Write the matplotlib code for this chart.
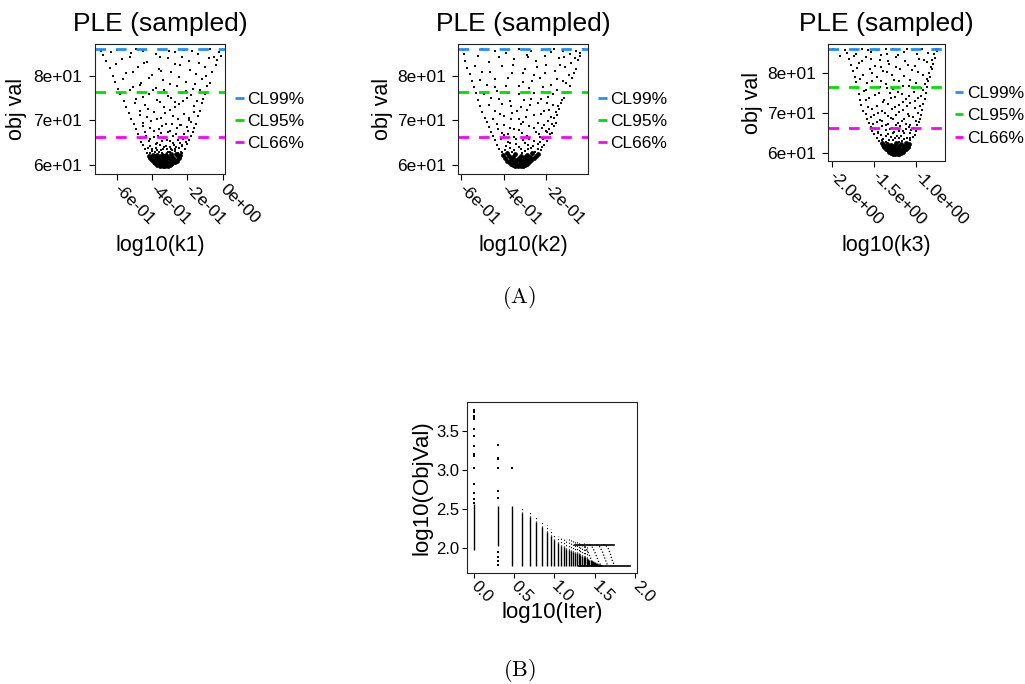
import matplotlib

matplotlib.use("Agg")
import matplotlib.pyplot as plt
import numpy as np

plt.rcParams["font.family"] = ["Liberation Sans", "DejaVu Sans"]
plt.rcParams["mathtext.fontset"] = "cm"

FIG_W, FIG_H = 1025, 684

# confidence-level thresholds on the objective value
CL_LABELS = ["CL99%", "CL95%", "CL66%"]
CL_LEVELS = [85.9, 76.4, 66.3]
CL_COLORS = ["#1E90FF", "#00E000", "#FF00FF"]

OBJ_TICKS = [60, 70, 80]
OBJ_TICK_LABELS = ["6e+01", "7e+01", "8e+01"]
OBJ_LIMITS = (58.0, 87.1)

K1_TICKS = [-0.6, -0.4, -0.2, 0.0]
K1_TICK_LABELS = ["-6e-01", "-4e-01", "-2e-01", "0e+00"]
K2_TICKS = [-0.6, -0.4, -0.2]
K2_TICK_LABELS = ["-6e-01", "-4e-01", "-2e-01"]
K3_TICKS = [-2.0, -1.5, -1.0]
K3_TICK_LABELS = ["-2.0e+00", "-1.5e+00", "-1.0e+00"]

# sampled profile points (log10 parameter, objective value); the core is the
# dense region just above the minimum
K1_CORE = [
    (-0.34, 59.7), (-0.325, 59.75), (-0.31, 59.8), (-0.355, 59.9), (-0.33, 59.95), (-0.30, 60.0),
    (-0.37, 60.1), (-0.35, 60.15), (-0.315, 60.2), (-0.29, 60.15), (-0.285, 60.4), (-0.385, 60.4),
    (-0.36, 60.5), (-0.335, 60.45), (-0.305, 60.55), (-0.27, 60.7), (-0.39, 60.75), (-0.37, 60.85),
    (-0.345, 60.8), (-0.32, 60.9), (-0.295, 60.85), (-0.26, 61.0), (-0.40, 61.1), (-0.375, 61.2),
    (-0.35, 61.15), (-0.325, 61.3), (-0.30, 61.25), (-0.275, 61.4), (-0.25, 61.5), (-0.41, 61.5),
    (-0.385, 61.6), (-0.36, 61.7), (-0.335, 61.65), (-0.31, 61.8), (-0.285, 61.9), (-0.255, 62.0),
    (-0.42, 62.1), (-0.395, 62.2), (-0.37, 62.3), (-0.345, 62.2), (-0.32, 62.35), (-0.295, 62.4),
    (-0.265, 62.5), (-0.24, 62.3),
]
K1_CLOUD = [
    (-0.43, 62.8), (-0.40, 63.1), (-0.36, 62.9), (-0.31, 63.0), (-0.27, 63.2), (-0.235, 63.0),
    (-0.44, 63.6), (-0.38, 63.8), (-0.34, 63.5), (-0.29, 63.7), (-0.25, 63.9), (-0.215, 63.6),
    (-0.45, 64.4), (-0.41, 64.2), (-0.355, 64.5), (-0.32, 64.3), (-0.275, 64.6), (-0.23, 64.4),
    (-0.20, 64.8), (-0.46, 65.2), (-0.42, 65.4), (-0.37, 65.0), (-0.30, 65.3), (-0.255, 65.6),
    (-0.21, 65.1), (-0.19, 65.7), (-0.47, 66.0), (-0.39, 66.3), (-0.33, 66.0), (-0.28, 66.5),
    (-0.235, 66.2), (-0.18, 66.4), (-0.48, 67.0), (-0.44, 67.3), (-0.35, 67.1), (-0.30, 67.6),
    (-0.22, 67.0), (-0.17, 67.4), (-0.49, 68.1), (-0.41, 68.4), (-0.36, 68.0), (-0.26, 68.3),
    (-0.20, 68.6), (-0.16, 68.2), (-0.50, 69.2), (-0.45, 69.5), (-0.32, 69.3), (-0.24, 69.0),
    (-0.18, 69.6), (-0.15, 69.1),
    (-0.52, 70.3), (-0.43, 70.8), (-0.35, 70.5), (-0.28, 71.0), (-0.19, 70.6), (-0.14, 70.9),
    (-0.53, 71.6), (-0.47, 72.0), (-0.39, 71.8), (-0.30, 72.3), (-0.22, 71.5), (-0.13, 72.1),
    (-0.55, 73.0), (-0.44, 73.4), (-0.33, 73.1), (-0.25, 73.7), (-0.16, 73.3), (-0.12, 73.8),
    (-0.56, 74.4), (-0.49, 74.8), (-0.37, 74.6), (-0.27, 74.2), (-0.20, 75.0), (-0.11, 74.7),
    (-0.58, 75.8), (-0.42, 76.0), (-0.31, 75.5), (-0.23, 76.2), (-0.10, 75.9),
    (-0.59, 77.0), (-0.51, 77.5), (-0.38, 77.2), (-0.26, 77.8), (-0.17, 77.1), (-0.09, 77.6),
    (-0.61, 78.6), (-0.46, 78.3), (-0.34, 79.0), (-0.21, 78.7), (-0.12, 79.2), (-0.07, 78.4),
    (-0.62, 80.0), (-0.55, 80.6), (-0.40, 80.2), (-0.29, 80.8), (-0.15, 80.4), (-0.06, 80.9),
    (-0.64, 81.7), (-0.48, 82.0), (-0.36, 81.5), (-0.24, 82.3), (-0.10, 81.9), (-0.04, 82.5),
    (-0.66, 83.3), (-0.57, 83.8), (-0.43, 83.1), (-0.31, 83.9), (-0.19, 83.4), (-0.08, 84.0),
    (-0.03, 83.6), (-0.68, 84.6), (-0.52, 85.0), (-0.38, 84.8), (-0.27, 85.3), (-0.14, 84.9),
    (-0.02, 85.2), (-0.01, 84.5), (-0.69, 85.6), (-0.60, 85.8), (-0.45, 85.5), (-0.22, 85.7),
    (-0.07, 85.9),
    (-0.318, 62.7), (-0.287, 63.4), (-0.352, 63.3), (-0.402, 63.5), (-0.262, 64.1), (-0.331, 64.0),
    (-0.298, 64.1), (-0.377, 64.8), (-0.243, 65.0), (-0.345, 65.4), (-0.281, 65.0), (-0.412, 65.9),
    (-0.318, 65.7), (-0.226, 65.9), (-0.366, 66.6), (-0.262, 66.9), (-0.432, 66.6), (-0.307, 67.3),
    (-0.198, 67.7), (-0.387, 67.6), (-0.341, 68.7), (-0.236, 68.9), (-0.452, 68.8), (-0.288, 69.2),
    (-0.407, 69.9), (-0.193, 70.1), (-0.372, 70.2), (-0.251, 70.4), (-0.468, 71.3), (-0.327, 71.7),
    (-0.164, 71.9), (-0.422, 72.6), (-0.268, 72.9), (-0.497, 73.9), (-0.353, 74.1), (-0.226, 74.4),
    (-0.143, 74.3), (-0.452, 75.3), (-0.291, 75.0), (-0.178, 75.6), (-0.527, 76.7), (-0.396, 76.8),
    (-0.334, 76.9), (-0.208, 76.6), (-0.128, 76.9), (-0.467, 78.0), (-0.297, 78.2), (-0.158, 78.1),
    (-0.562, 79.3), (-0.417, 79.6), (-0.247, 79.8), (-0.093, 79.9), (-0.508, 80.9), (-0.351, 81.1),
    (-0.187, 81.3), (-0.603, 82.6), (-0.447, 82.9), (-0.272, 82.7), (-0.134, 82.8), (-0.527, 84.1),
    (-0.356, 84.3), (-0.229, 84.1), (-0.052, 84.3), (-0.633, 85.2), (-0.492, 85.9), (-0.306, 85.6),
    (-0.172, 85.5),
    (-0.412, 62.7), (-0.383, 62.9), (-0.342, 62.8), (-0.297, 62.9), (-0.252, 62.8), (-0.228, 62.6),
    (-0.371, 63.4), (-0.316, 63.6), (-0.268, 63.5), (-0.421, 63.9), (-0.233, 64.2),
]

K2_CORE = [
    (-0.335, 59.7), (-0.32, 59.75), (-0.345, 59.85), (-0.31, 59.9), (-0.33, 60.0), (-0.355, 60.1),
    (-0.30, 60.1), (-0.32, 60.25), (-0.365, 60.3), (-0.29, 60.35), (-0.34, 60.45), (-0.305, 60.55),
    (-0.375, 60.6), (-0.28, 60.7), (-0.355, 60.75), (-0.325, 60.8), (-0.295, 60.9), (-0.385, 61.0),
    (-0.27, 61.05), (-0.34, 61.1), (-0.31, 61.2), (-0.365, 61.35), (-0.285, 61.4), (-0.26, 61.5),
    (-0.395, 61.55), (-0.33, 61.5), (-0.30, 61.7), (-0.355, 61.8), (-0.375, 62.0), (-0.275, 61.9),
    (-0.25, 62.1), (-0.405, 62.3), (-0.32, 62.1), (-0.345, 62.4), (-0.29, 62.35), (-0.24, 62.5),
    (-0.265, 62.6), (-0.385, 62.6),
]
K2_CLOUD = [
    (-0.41, 62.9), (-0.36, 63.0), (-0.30, 63.2), (-0.255, 63.0), (-0.225, 63.4),
    (-0.42, 63.7), (-0.37, 63.9), (-0.32, 63.6), (-0.27, 63.8), (-0.22, 64.0),
    (-0.43, 64.6), (-0.39, 64.3), (-0.34, 64.7), (-0.285, 64.4), (-0.24, 64.8), (-0.21, 64.5),
    (-0.44, 65.5), (-0.38, 65.2), (-0.31, 65.6), (-0.26, 65.3), (-0.215, 65.8), (-0.195, 65.4),
    (-0.45, 66.4), (-0.40, 66.7), (-0.35, 66.2), (-0.29, 66.6), (-0.23, 66.3), (-0.185, 66.9),
    (-0.46, 67.5), (-0.41, 67.2), (-0.33, 67.8), (-0.25, 67.4), (-0.20, 67.7), (-0.175, 67.1),
    (-0.47, 68.6), (-0.37, 68.3), (-0.28, 68.8), (-0.22, 68.2), (-0.165, 68.7),
    (-0.48, 69.6), (-0.43, 69.3), (-0.31, 69.7), (-0.24, 69.4), (-0.19, 69.9), (-0.155, 69.5),
    (-0.49, 70.5), (-0.40, 70.9), (-0.33, 70.4), (-0.26, 71.1), (-0.18, 70.7), (-0.15, 71.3),
    (-0.50, 71.8), (-0.44, 72.2), (-0.36, 71.6), (-0.29, 72.4), (-0.21, 72.0), (-0.14, 72.6),
    (-0.51, 73.2), (-0.41, 73.6), (-0.32, 73.0), (-0.24, 73.8), (-0.17, 73.4), (-0.13, 74.0),
    (-0.52, 74.6), (-0.46, 75.0), (-0.37, 74.4), (-0.27, 74.9), (-0.19, 75.3), (-0.115, 75.1),
    (-0.53, 76.1), (-0.43, 76.5), (-0.33, 75.8), (-0.22, 76.3), (-0.15, 76.8), (-0.10, 76.4),
    (-0.54, 77.4), (-0.48, 77.9), (-0.39, 77.6), (-0.28, 77.2), (-0.18, 78.0), (-0.09, 77.7),
    (-0.55, 78.8), (-0.44, 79.2), (-0.31, 78.6), (-0.23, 79.4), (-0.12, 78.9), (-0.08, 79.6),
    (-0.56, 80.3), (-0.50, 80.8), (-0.36, 80.5), (-0.26, 80.1), (-0.16, 81.0), (-0.07, 80.6),
    (-0.57, 81.8), (-0.41, 82.2), (-0.30, 81.6), (-0.20, 82.4), (-0.11, 82.0), (-0.06, 81.4),
    (-0.58, 83.4), (-0.47, 83.0), (-0.35, 83.7), (-0.25, 83.2), (-0.14, 83.9), (-0.05, 83.5),
    (-0.585, 84.9), (-0.52, 84.5), (-0.39, 85.1), (-0.29, 84.7), (-0.18, 85.3), (-0.09, 84.8),
    (-0.04, 85.0), (-0.59, 85.8), (-0.44, 85.6), (-0.33, 85.9), (-0.22, 85.7), (-0.12, 85.5),
    (-0.03, 85.9),
    (-0.312, 62.8), (-0.351, 63.3), (-0.284, 63.5), (-0.238, 63.6), (-0.396, 63.4), (-0.327, 64.1),
    (-0.262, 64.2), (-0.372, 64.9), (-0.298, 64.9), (-0.228, 65.1), (-0.412, 65.8), (-0.341, 65.9),
    (-0.279, 65.8), (-0.204, 66.1), (-0.379, 66.9), (-0.312, 67.1), (-0.236, 66.9), (-0.197, 67.4),
    (-0.427, 68.0), (-0.352, 68.1), (-0.258, 68.3), (-0.188, 68.0), (-0.398, 69.0), (-0.321, 69.2),
    (-0.213, 69.0), (-0.172, 69.3), (-0.449, 70.2), (-0.366, 70.3), (-0.295, 70.8), (-0.226, 71.4),
    (-0.163, 70.6), (-0.418, 71.5), (-0.338, 72.0), (-0.188, 72.3), (-0.153, 71.9), (-0.468, 73.5),
    (-0.366, 73.3), (-0.276, 73.4), (-0.197, 73.9), (-0.143, 73.2), (-0.424, 74.8), (-0.306, 74.6),
    (-0.226, 74.7), (-0.128, 74.5), (-0.493, 76.0), (-0.378, 76.2), (-0.258, 76.1), (-0.168, 75.8),
    (-0.113, 76.1), (-0.443, 77.5), (-0.327, 77.8), (-0.216, 77.4), (-0.106, 78.3), (-0.512, 79.1),
    (-0.381, 79.4), (-0.269, 78.9), (-0.148, 79.2), (-0.466, 80.8), (-0.311, 80.7), (-0.205, 80.5),
    (-0.094, 80.2), (-0.536, 82.2), (-0.356, 82.5), (-0.246, 81.9), (-0.138, 82.4), (-0.083, 82.8),
    (-0.421, 84.2), (-0.288, 84.1), (-0.205, 84.4), (-0.116, 84.2), (-0.067, 83.9), (-0.502, 85.9),
    (-0.271, 85.5), (-0.162, 85.9), (-0.061, 85.6), (-0.041, 84.4),
]

K3_CORE = [
    (-1.25, 59.7), (-1.22, 59.75), (-1.28, 59.85), (-1.20, 59.9), (-1.24, 60.0), (-1.30, 60.1),
    (-1.18, 60.15), (-1.26, 60.25), (-1.32, 60.35), (-1.16, 60.4), (-1.22, 60.45), (-1.29, 60.6),
    (-1.34, 60.7), (-1.14, 60.75), (-1.25, 60.8), (-1.19, 60.9), (-1.31, 61.0), (-1.36, 61.1),
    (-1.12, 61.1), (-1.23, 61.2), (-1.28, 61.35), (-1.16, 61.4), (-1.38, 61.5), (-1.33, 61.6),
    (-1.10, 61.6), (-1.21, 61.7), (-1.26, 61.85), (-1.14, 61.9), (-1.39, 62.0), (-1.30, 62.1),
    (-1.09, 62.2), (-1.18, 62.3), (-1.35, 62.4), (-1.24, 62.45), (-1.12, 62.6), (-1.41, 62.6),
]
K3_CLOUD = [
    (-1.44, 63.0), (-1.36, 62.9), (-1.27, 63.2), (-1.17, 63.0), (-1.07, 63.3),
    (-1.47, 63.8), (-1.39, 63.6), (-1.30, 64.0), (-1.20, 63.7), (-1.11, 63.9), (-1.04, 64.1),
    (-1.50, 64.7), (-1.42, 64.5), (-1.33, 64.8), (-1.23, 64.4), (-1.14, 64.9), (-1.02, 64.6),
    (-1.52, 65.6), (-1.45, 65.3), (-1.36, 65.7), (-1.26, 65.2), (-1.16, 65.5), (-1.06, 65.8),
    (-1.00, 65.4), (-1.54, 66.4), (-1.40, 66.7), (-1.29, 66.3), (-1.19, 66.8), (-1.09, 66.5),
    (-0.99, 66.9), (-1.56, 67.5), (-1.47, 67.8), (-1.33, 67.3), (-1.22, 67.6), (-1.12, 67.2),
    (-0.97, 67.7), (-1.58, 68.6), (-1.43, 68.3), (-1.30, 68.8), (-1.15, 68.4), (-1.04, 68.9),
    (-0.96, 68.5), (-1.60, 69.7), (-1.50, 69.4), (-1.37, 69.9), (-1.24, 69.5), (-1.10, 69.8),
    (-0.94, 69.6),
    (-1.63, 70.6), (-1.52, 70.9), (-1.41, 70.4), (-1.29, 71.0), (-1.16, 70.7), (-1.02, 71.2),
    (-0.93, 70.8), (-1.65, 72.0), (-1.46, 71.7), (-1.34, 72.3), (-1.20, 71.9), (-1.07, 72.5),
    (-0.92, 72.1), (-1.66, 73.3), (-1.56, 73.7), (-1.38, 73.1), (-1.25, 73.9), (-1.12, 73.4),
    (-0.98, 73.8), (-0.90, 73.5), (-1.68, 74.8), (-1.49, 74.4), (-1.31, 75.0), (-1.17, 74.6),
    (-1.03, 75.2), (-0.89, 74.9), (-1.70, 76.2), (-1.59, 75.8), (-1.43, 76.5), (-1.27, 76.0),
    (-1.09, 76.6), (-0.94, 76.1), (-0.87, 76.4), (-1.71, 77.6), (-1.52, 77.9), (-1.36, 77.3),
    (-1.21, 77.8), (-1.00, 77.5), (-0.86, 77.9), (-1.73, 79.0), (-1.63, 79.4), (-1.46, 78.8),
    (-1.29, 79.5), (-1.14, 79.1), (-0.92, 79.3), (-0.84, 78.9), (-1.75, 80.5), (-1.55, 80.9),
    (-1.39, 80.3), (-1.19, 81.0), (-1.05, 80.6), (-0.82, 80.8), (-1.77, 82.0), (-1.68, 82.4),
    (-1.49, 81.7), (-1.32, 82.2), (-1.10, 81.9), (-0.88, 82.6), (-0.80, 82.1), (-1.79, 83.5),
    (-1.60, 83.9), (-1.43, 83.2), (-1.24, 83.8), (-0.97, 83.4), (-0.78, 83.7), (-1.82, 84.9),
    (-1.71, 84.6), (-1.53, 85.2), (-1.35, 84.7), (-1.15, 85.1), (-0.86, 84.8), (-0.76, 85.3),
    (-1.98, 85.8), (-1.90, 84.2), (-1.84, 85.7), (-1.64, 85.9), (-1.46, 85.6), (-1.27, 85.8),
    (-1.04, 85.7), (-0.74, 85.9),
    (-1.21, 62.8), (-1.32, 63.3), (-1.14, 63.5), (-1.41, 63.4), (-1.25, 63.8), (-1.08, 63.8),
    (-1.36, 64.3), (-1.18, 64.2), (-1.28, 64.9), (-1.08, 64.9), (-1.45, 64.9), (-1.21, 65.6),
    (-1.31, 66.0), (-1.12, 66.1), (-1.49, 66.0), (-1.03, 66.3), (-1.36, 66.9), (-1.24, 67.1),
    (-1.07, 67.1), (-1.51, 67.3), (-1.17, 67.9), (-1.40, 68.0), (-1.00, 68.1), (-1.27, 68.4),
    (-1.53, 68.9), (-1.09, 69.2), (-1.33, 69.3), (-0.98, 69.9), (-1.45, 70.1), (-1.20, 70.3),
    (-1.57, 71.4), (-1.25, 71.5), (-1.11, 71.6), (-0.96, 71.6), (-1.39, 72.6), (-1.16, 72.8),
    (-1.01, 72.9), (-1.60, 73.1), (-1.30, 73.6), (-0.94, 74.2), (-1.44, 74.9), (-1.22, 75.3),
    (-1.09, 74.1), (-0.92, 75.6), (-1.62, 75.4), (-1.35, 76.2), (-1.16, 76.8), (-1.03, 76.3),
    (-0.90, 77.1), (-1.58, 77.4), (-1.42, 78.0), (-1.26, 78.2), (-1.08, 78.1), (-0.88, 78.4),
    (-1.67, 78.5), (-1.52, 79.9), (-1.35, 80.2), (-0.98, 80.1), (-0.85, 80.0), (-1.70, 81.1),
    (-1.42, 81.5), (-1.24, 81.4), (-1.02, 81.6), (-0.83, 81.4), (-1.64, 82.9), (-1.53, 83.3),
    (-1.33, 83.0), (-1.13, 82.8), (-0.91, 83.1), (-0.81, 83.2), (-1.74, 84.1), (-1.42, 84.4),
    (-1.22, 84.3), (-0.99, 84.5), (-0.79, 84.5), (-1.57, 85.6), (-1.36, 85.9), (-1.11, 85.8),
    (-0.93, 85.9), (-0.77, 85.8),
]

# optimiser trace: objective range reached at each iteration (log10 scale)
TRACE_ITER = [
    1, 2, 3, 4, 5, 6, 7, 8, 9, 10,
    11, 12, 13, 14, 15, 16, 17, 18, 19, 20,
    21, 22, 23, 24, 25, 26, 27, 28, 29, 30,
    31, 32, 33, 34, 35, 36, 37, 38, 39, 40,
]
TRACE_MAX = [
    2.57, 2.54, 2.54, 2.51, 2.46, 2.40, 2.35, 2.30, 2.25, 2.18,
    2.16, 2.14, 2.13, 2.12, 2.115, 2.11, 2.10, 2.10, 2.09, 2.09,
    2.08, 2.07, 2.06, 2.05, 2.05, 1.86, 1.85, 1.845, 1.84, 1.83,
    1.825, 1.82, 1.81, 1.805, 1.80, 1.795, 1.79, 1.785, 1.78, 1.775,
]
TRACE_DENSE_MAX = [
    2.57, 2.54, 2.54, 2.45, 2.40, 2.33, 2.27, 2.20, 2.15, 2.10,
    2.06, 2.03, 2.01, 1.99, 1.97, 1.96, 1.95, 1.94, 1.93, 1.92,
    1.91, 1.90, 1.89, 1.88, 1.87, 1.86, 1.85, 1.845, 1.84, 1.83,
    1.825, 1.82, 1.81, 1.805, 1.80, 1.795, 1.79, 1.785, 1.78, 1.775,
]
TRACE_MIN = [
    1.97, 2.02, 1.77, 1.77, 1.77, 1.77, 1.77, 1.77, 1.77, 1.77,
    1.77, 1.77, 1.77, 1.77, 1.77, 1.77, 1.77, 1.77, 1.77, 1.77,
    1.77, 1.77, 1.77, 1.77, 1.77, 1.77, 1.77, 1.77, 1.77, 1.77,
    1.77, 1.77, 1.77, 1.77, 1.77, 1.77, 1.77, 1.77, 1.77, 1.77,
]
# isolated early evaluations
OUTLIER_ITER = [
    1, 1, 1, 1, 1, 1, 1, 1, 1, 1, 1, 1, 1, 1, 1,
    2, 2, 2, 2, 2, 2, 2, 2, 2, 2,
    3,
]
OUTLIER_OBJ = [
    3.769, 3.740, 3.692, 3.671, 3.650, 3.526, 3.436, 3.308, 3.201, 3.179, 3.022, 2.817,
    2.709, 2.624, 2.573,
    3.32, 3.15, 3.14, 3.03, 2.73, 2.645, 1.95, 1.89, 1.84, 1.78,
    3.02,
]
# runs stuck on the two plateaus and the ones leaving the upper plateau
PLATEAU_HIGH_ITER = [18, 54]
PLATEAU_HIGH_OBJ = [2.045, 2.045]
PLATEAU_LOW_ITER = [20, 87]
PLATEAU_LOW_OBJ = [1.772, 1.772]
DROP_RUNS = [
    ([22, 24, 26, 28, 30], [2.04, 2.01, 1.95, 1.87, 1.80]),
    ([27, 29, 31, 33, 35, 37], [2.04, 2.02, 1.97, 1.90, 1.83, 1.79]),
    ([33, 36, 39, 42, 45], [2.04, 2.02, 1.96, 1.87, 1.79]),
    ([40, 43, 46, 49, 52, 55], [2.045, 2.035, 2.0, 1.93, 1.84, 1.78]),
]
ITER_TICKS = [0.0, 0.5, 1.0, 1.5, 2.0]
ITER_TICK_LABELS = ["0.0", "0.5", "1.0", "1.5", "2.0"]
TRACE_TICKS = [2.0, 2.5, 3.0, 3.5]
TRACE_TICK_LABELS = ["2.0", "2.5", "3.0", "3.5"]


def px_rect(left, top, right, bottom):
    return [left / FIG_W, 1 - bottom / FIG_H, (right - left) / FIG_W, (bottom - top) / FIG_H]


def style_box(ax):
    for spine in ax.spines.values():
        spine.set_linewidth(0.8)
        spine.set_color("#222222")


def draw_ple(fig, rect, core, cloud, xlabel, ticks, tick_labels, xlim,
             ylabel_x, xlabel_y, legend_anchor):
    ax = fig.add_axes(rect)
    core = np.array(core)
    cloud = np.array(cloud)
    ax.scatter(cloud[:, 0], cloud[:, 1], s=1.5, marker="s", color="#111111", linewidths=0)
    ax.scatter(core[:, 0], core[:, 1], s=12, marker="o", color="black", linewidths=0)

    handles = []
    for level, color in zip(CL_LEVELS, CL_COLORS):
        line = ax.axhline(level, color=color, linewidth=2.0, linestyle=(0, (3.8, 3.6)))
        handles.append(line)
    ax.legend(handles, CL_LABELS, loc="upper left", bbox_to_anchor=legend_anchor,
              frameon=False, fontsize=12.5, handlelength=0.5, handletextpad=0.2,
              borderpad=0, borderaxespad=0, labelspacing=0.42)

    ax.set_xlim(*xlim)
    ax.set_ylim(*OBJ_LIMITS)
    ax.set_yticks(OBJ_TICKS, OBJ_TICK_LABELS)
    ax.set_xticks(ticks, tick_labels, rotation=-45, ha="left", va="center",
                  rotation_mode="anchor")
    ax.tick_params(axis="both", direction="out", length=4, width=0.8, labelsize=12.5)
    ax.tick_params(axis="y", pad=5)
    ax.tick_params(axis="x", pad=5)
    ax.set_title("PLE (sampled)", fontsize=19, pad=9)
    ax.set_ylabel("obj val", fontsize=15.5)
    ax.set_xlabel(xlabel, fontsize=15.5)
    ax.yaxis.set_label_coords(ylabel_x, 0.5)
    ax.xaxis.set_label_coords(0.5, xlabel_y)
    style_box(ax)
    return ax


fig = plt.figure(figsize=(FIG_W / 100, FIG_H / 100), dpi=100)
fig.patch.set_facecolor("white")

draw_ple(fig, px_rect(95, 44, 225, 174), K1_CORE, K1_CLOUD, "log10(k1)",
         K1_TICKS, K1_TICK_LABELS, (-0.723, 0.013), -0.523, -0.469, (1.077, 0.635))
draw_ple(fig, px_rect(458.3, 44, 588.3, 174), K2_CORE, K2_CLOUD, "log10(k2)",
         K2_TICKS, K2_TICK_LABELS, (-0.613, -0.003), -0.502, -0.469, (1.075, 0.635))
draw_ple(fig, px_rect(828.3, 44, 945.3, 161.3), K3_CORE, K3_CLOUD, "log10(k3)",
         K3_TICKS, K3_TICK_LABELS, (-2.04, -0.658), -0.556, -0.628, (1.08, 0.645))

# optimiser trace panel
ax_b = fig.add_axes(px_rect(466.7, 402.3, 637.3, 573.3))
log_iter = np.log10(TRACE_ITER)
ax_b.vlines(log_iter, TRACE_DENSE_MAX, TRACE_MAX, colors="black", linewidth=0.8,
            linestyles=(0, (1, 2)))
ax_b.vlines(log_iter, TRACE_MIN, TRACE_DENSE_MAX, colors="black", linewidth=1.0)
ax_b.plot(np.log10(PLATEAU_HIGH_ITER), PLATEAU_HIGH_OBJ, color="black", linewidth=1.2)
ax_b.plot(np.log10(PLATEAU_LOW_ITER), PLATEAU_LOW_OBJ, color="black", linewidth=1.2)
for run_iter, run_obj in DROP_RUNS:
    ax_b.plot(np.log10(run_iter), run_obj, color="black", linewidth=0.9,
              linestyle=(0, (1, 1.5)))
ax_b.scatter(np.log10(OUTLIER_ITER), OUTLIER_OBJ, s=2.5, marker="s", color="black",
             linewidths=0)
ax_b.set_xlim(-0.085, 2.025)
ax_b.set_ylim(1.676, 3.868)
ax_b.set_xticks(ITER_TICKS, ITER_TICK_LABELS, rotation=-45, ha="left", va="center",
                rotation_mode="anchor")
ax_b.set_yticks(TRACE_TICKS, TRACE_TICK_LABELS)
ax_b.tick_params(axis="both", direction="out", length=3.6, width=0.8, labelsize=12)
ax_b.tick_params(axis="y", pad=2)
ax_b.tick_params(axis="x", pad=4)
ax_b.set_xlabel("log10(Iter)", fontsize=16)
ax_b.set_ylabel("log10(ObjVal)", fontsize=16)
ax_b.xaxis.set_label_coords(0.5, -0.165)
ax_b.yaxis.set_label_coords(-0.198, 0.5)
style_box(ax_b)

fig.text(519 / FIG_W, 1 - 298 / FIG_H, r"$\mathrm{(A)}$", ha="center", va="center", fontsize=16)
fig.text(519 / FIG_W, 1 - 670 / FIG_H, r"$\mathrm{(B)}$", ha="center", va="center", fontsize=16)

fig.savefig("out.png", dpi=100, facecolor="white")
plt.close(fig)
